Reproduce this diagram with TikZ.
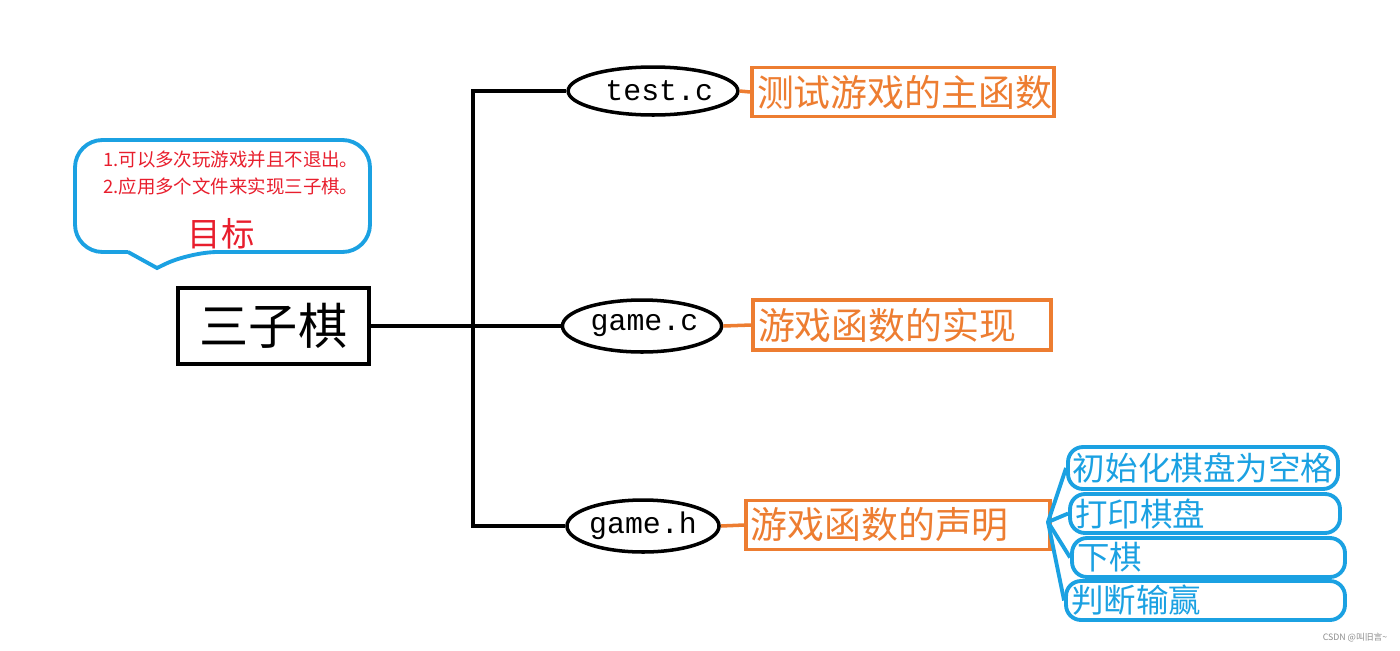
\documentclass[tikz,border=0pt]{standalone}
\usepackage{fontspec}
\setmainfont{Noto Sans CJK SC}
\setmonofont{Liberation Mono}
\usetikzlibrary{shapes.geometric}

\definecolor{myorange}{RGB}{237,125,49}
\definecolor{myblue}{RGB}{27,161,226}
\definecolor{myred}{RGB}{232,30,45}

\begin{document}
\begin{tikzpicture}[x=0.02cm, y=-0.02cm,
    file/.style={draw, ellipse, line width=2pt, inner sep=0pt, font=\ttfamily\fontsize{17}{17}\selectfont},
    desc/.style={draw=myorange, line width=2pt, inner sep=0pt, text=myorange, align=left, text width=5.7cm, font=\fontsize{21}{21}\selectfont},
    task/.style={draw=myblue, line width=2.2pt, rounded corners=0.3cm, inner sep=0pt, text=myblue, align=left, font=\fontsize{18.5}{18.5}\selectfont}]
    \useasboundingbox (0, 0) rectangle (1400, 650);
    
    \node[draw, line width=2pt, minimum width=3.82cm, minimum height=1.52cm, font=\fontsize{28}{28}\selectfont] (main) at (273.5, 326) {三子棋};
    
    \node[file, minimum width=3.2cm, minimum height=0.96cm] (testc) at (653, 91) {\hspace{0.25cm}test.c};
    \node[file, minimum width=3.06cm, minimum height=1.04cm] (gamec) at (642, 326) {\hspace{0.1cm}game.c};
    \node[file, minimum width=2.86cm, minimum height=1.04cm] (gameh) at (643, 526) {game.h};
    
    \node[desc, minimum width=6.04cm, minimum height=0.98cm, text width=5.84cm] (main fn) at (903, 92) {测试游戏的主函数};
    \node[desc, minimum width=5.96cm, minimum height=1.0cm, text width=5.76cm] (impl) at (902, 325) {游戏函数的实现};
    \node[desc, minimum width=6.08cm, minimum height=0.98cm, text width=5.9cm] (decl) at (898, 525) {游戏函数的声明};
    
    \coordinate (trunk top) at (473, 91);
    \coordinate (trunk bot) at (473, 526);
    \draw[line width=2pt] (testc.west) -- (trunk top) -- (trunk bot) -- (gameh.west);
    \draw[line width=2pt] (main.east) -- (gamec.west);
    
    \draw[myorange, line width=2pt] (testc.east) -- (main fn.west);
    \draw[myorange, line width=2pt] (gamec.east) -- (impl.west);
    \draw[myorange, line width=2pt] (gameh.east) -- (decl.west);
    
    \node[task, minimum width=5.4cm, minimum height=0.84cm] (init) at (1203, 468) {初始化棋盘为空格};
    \node[task, minimum width=5.4cm, minimum height=0.78cm, text width=5.2cm] (show) at (1205, 513.5) {打印棋盘};
    \node[task, minimum width=5.46cm, minimum height=0.78cm, text width=5.26cm] (move) at (1208.5, 557.5) {下棋};
    \node[task, minimum width=5.58cm, minimum height=0.78cm, text width=5.38cm] (judge) at (1205.5, 600.5) {判断输赢};
    
    \coordinate (fan) at (1048, 522);
    \draw[myblue, line width=2.2pt] (init.west) -- (fan) -- (judge.west);
    \draw[myblue, line width=2.2pt] (fan) -- (show.west);
    \draw[myblue, line width=2.2pt] (fan) -- (move.west);
    
    % callout
    \draw[myblue, line width=2.2pt, rounded corners=0.55cm] (128, 252) -- (75, 252) -- (75, 140) -- (370, 140) -- (370, 252) -- (190, 252) [sharp corners] -- (157, 268) -- (128, 252);
    \node[anchor=west, text=myred, font=\fontsize{10.5}{10.5}\selectfont] (goal1) at (97, 160) {1.可以多次玩游戏并且不退出。};
    \node[anchor=west, text=myred, font=\fontsize{10.5}{10.5}\selectfont] (goal2) at (97, 186) {2.应用多个文件来实现三子棋。};
    \node[text=myred, font=\fontsize{19}{19}\selectfont] (goal) at (221, 234) {目标};
    
    \node[text=black!45, font=\fontsize{5}{5}\selectfont] (mark) at (1355, 638) {CSDN @叫旧言\textasciitilde};
    
\end{tikzpicture}
\end{document}
